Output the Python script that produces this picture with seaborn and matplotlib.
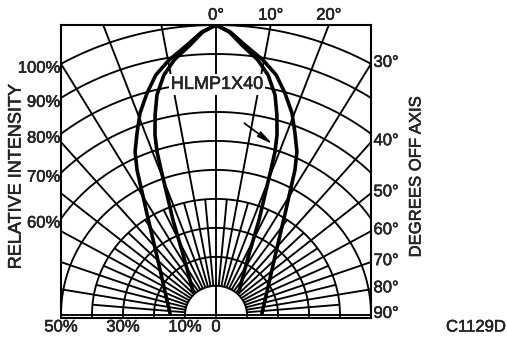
import numpy as np
import pandas as pd
import matplotlib
matplotlib.use("Agg")
import matplotlib.pyplot as plt
import matplotlib.patheffects as pe
import seaborn as sns

# radiation pattern
# angle off axis (deg) and relative intensity (%), mirrored for the other side
outer_angle = [0, 2.7, 5.7, 9.8, 13.2, 16.2, 19.4, 22.1, 24.9, 27, 32.5, 43.5, 59.4, 75.6, 88.8]
outer_intensity = [100, 97.7, 93.6, 89.2, 85, 79.7, 73.8, 67.7, 62, 56.1, 41.5, 27.6, 19.6, 16.1, 14.8]
inner_angle = [0, 2.5, 5.1, 8.7, 11.5, 14.1, 15.9, 17.6, 18.7, 19.5, 23, 27.5, 43]
inner_intensity = [100, 97.7, 93.5, 89, 84.4, 78.2, 71.7, 65.1, 59.3, 53, 35.5, 22.5, 10.8]

ring_values = [10, 20, 30, 40, 50, 60, 70, 80, 90, 100]
left_labels = ["100%", "90%", "80%", "70%", "60%"]
left_label_rings = [100, 90, 80, 70, 60]
bottom_labels = ["50%", "30%", "10%", "0"]
bottom_label_pos = [-50, -30, -10, 0]
top_angles = [0, 10, 20]
right_angles = [30, 40, 50, 60, 70, 80, 90]
part_name = "HLMP1X40"
fig_code = "C1129D"


def pattern_frame(angles, intensity, name):
    a = np.array(angles, dtype=float)
    r = np.array(intensity, dtype=float)
    a_full = np.concatenate([-a[::-1], a[1:]])
    r_full = np.concatenate([r[::-1], r[1:]])
    th = np.radians(a_full)
    return pd.DataFrame({"x": r_full * np.sin(th), "y": r_full * np.cos(th), "curve": name})


sns.set_style("white")
plt.rcParams["font.family"] = ["Liberation Sans", "DejaVu Sans"]
ink = [pe.withStroke(linewidth=0.35, foreground="black")]

fig = plt.figure(figsize=(5.07, 3.39), dpi=100)
ax = fig.add_axes([61 / 507, 21 / 339, 310 / 507, 293 / 339])
ax.set_xlim(-50, 50)
ax.set_ylim(-1.1, 100)

grid_kw = dict(color="black", lw=1.35, solid_capstyle="butt")

# intensity rings
phi = np.linspace(-np.pi / 2, np.pi / 2, 400)
for r in ring_values:
    ax.plot(r * np.sin(phi), r * np.cos(phi), **grid_kw)

# angle lines every 10 deg, short ones every 5 deg near the centre
for a in range(-80, 81, 10):
    t = np.radians(a)
    r0 = 0 if a == 0 else 10
    ax.plot([r0 * np.sin(t), 200 * np.sin(t)], [r0 * np.cos(t), 200 * np.cos(t)], **grid_kw)
for a in range(-85, 90, 10):
    t = np.radians(a)
    ax.plot([10 * np.sin(t), 40 * np.sin(t)], [10 * np.cos(t), 40 * np.cos(t)], **grid_kw)

ax.axhline(0, **grid_kw)
for r in ring_values[:5]:
    ax.vlines([-r, r], -1.1, 0, color="black", lw=1.2)
ax.vlines(0, -1.1, 0, color="black", lw=1.2)

df = pd.concat([pattern_frame(outer_angle, outer_intensity, "outer"),
                pattern_frame(inner_angle, inner_intensity, "inner")])
sns.lineplot(data=df, x="x", y="y", units="curve", estimator=None, sort=False,
             color="black", lw=2.6, ax=ax)

ax.annotate("", xy=(19, 58.3), xytext=(8.4, 66.7),
            arrowprops=dict(arrowstyle="-|>,head_length=0.9,head_width=0.18",
                            color="black", lw=1.2))
ax.text(0.3, 79.5, part_name, ha="center", va="center", fontsize=13, path_effects=ink,
        bbox=dict(facecolor="white", edgecolor="none", pad=1.5))

for lab, r in zip(left_labels, left_label_rings):
    y = np.sqrt(r ** 2 - 50 ** 2)
    ax.text(-50.2, y - 1.5, lab, ha="right", va="center", fontsize=12, path_effects=ink)
for lab, x in zip(bottom_labels, bottom_label_pos):
    ax.text(x, -4.2, lab, ha="center", va="center", fontsize=12, path_effects=ink)
for a in top_angles:
    ax.text(100 * np.tan(np.radians(a)), 100.8, f"{a}°", ha="center", va="bottom",
            fontsize=12, path_effects=ink)
for a in right_angles:
    y = 0 if a == 90 else 50 / np.tan(np.radians(a))
    ax.text(50.8, y + 0.5, f"{a}°", ha="left", va="center", fontsize=12, path_effects=ink)

for s in ax.spines.values():
    s.set_linewidth(1.5)
    s.set_color("black")
ax.set_xticks([])
ax.set_yticks([])
ax.set_xlabel("")
ax.set_ylabel("")

fig.text(16 / 507, 1 - 177 / 339, "RELATIVE INTENSITY", rotation=90, ha="center", va="center",
         fontsize=13, path_effects=ink)
fig.text(416 / 507, 1 - 177 / 339, "DEGREES OFF AXIS", rotation=90, ha="center", va="center",
         fontsize=12, path_effects=ink)
fig.text(476 / 507, 1 - 327 / 339, fig_code, ha="center", va="center", fontsize=12, path_effects=ink)

fig.savefig("out.png", dpi=100)
